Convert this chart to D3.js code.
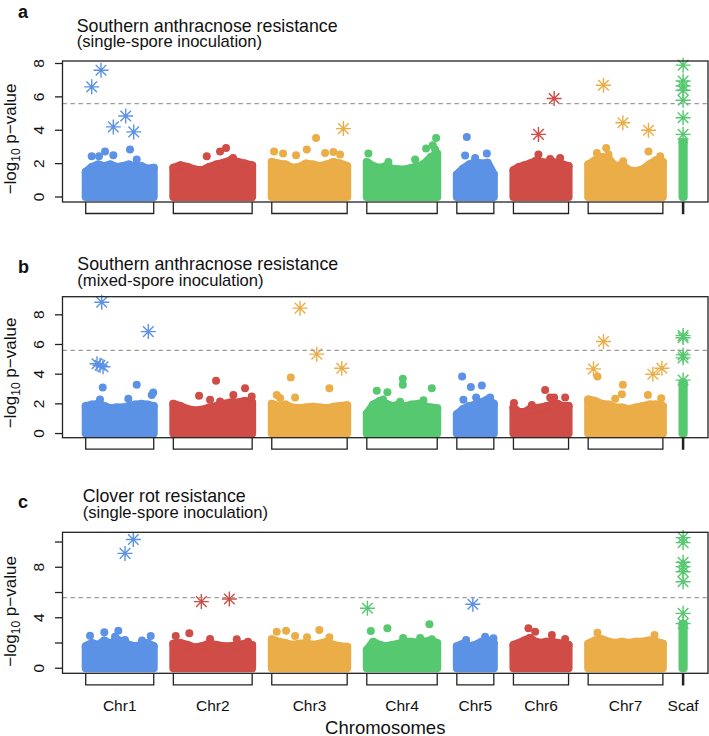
<!DOCTYPE html>
<html><head><meta charset="utf-8">
<script src="https://cdn.jsdelivr.net/npm/d3@7"></script>
<style>
body{margin:0;background:#fff}
svg{display:block}
text{font-family:"Liberation Sans",Arial,Helvetica,sans-serif;fill:#111}
</style>
</head><body>
<svg id="chart" width="709" height="736"></svg>
<script>
// ---------- data ----------
const chromosomes = ["Chr1","Chr2","Chr3","Chr4","Chr5","Chr6","Chr7","Scaf"];
const chromLengths = [68, 78.8, 75.4, 70.4, 37, 55.1, 74.7, 1.2];   // Mb (approx.)
const chromColors = ["#5b92e5","#d04c46","#ebad47","#56c870","#5b92e5","#d04c46","#ebad47","#56c870"];
const gapLength = 19.6, leftPad = 23.2, rightPad = 24.3;
const threshold = 5.6;

const panelLetters = ["a","b","c"];
const titleLine1 = ["Southern anthracnose resistance","Southern anthracnose resistance","Clover rot resistance"];
const titleLine2 = ["(single-spore inoculation)","(mixed-spore inoculation)","(single-spore inoculation)"];

const yTicksA = [0,2,4,6,8],      yLabelsA = [0,2,4,6,8];
const yTicksB = [0,2,4,6,8],      yLabelsB = [0,2,4,6,8];
const yTicksC = [0,2,4,6,8,10],   yLabelsC = [0,4,8];

// upper envelope of the dense background SNP clouds (-log10 p), evenly along each chromosome
const envA = [
  [1.5,1.8,1.95,1.85,1.95,1.8,1.85,1.95,1.8,1.85,1.7,1.75],
  [1.75,1.9,1.8,1.65,1.6,1.8,1.95,2.05,2.2,2.1,2.0,1.9],
  [2.1,2.0,1.95,1.75,1.8,2.0,1.95,1.85,1.95,2.1,2.0,1.85],
  [2.1,1.85,1.75,1.85,1.7,1.65,1.65,1.75,1.85,2.0,2.4,2.6],
  [1.35,1.7,1.95,2.1,2.0,2.05,1.35],
  [1.6,1.8,1.9,2.0,2.15,2.1,2.05,2.1,2.05,1.95,1.85],
  [1.95,2.2,2.4,2.3,1.85,1.95,1.6,1.55,1.65,1.95,2.2,2.1],
  [3.3,3.3]
];
const envB = [
  [1.85,1.95,2.0,1.85,1.7,1.75,1.75,1.85,1.95,2.0,1.95,1.85],
  [2.0,1.85,1.65,1.55,1.6,1.75,1.85,2.0,2.1,2.1,2.2,2.1],
  [2.0,1.85,1.95,1.75,1.7,1.75,1.8,1.75,1.7,1.8,1.85,1.9],
  [1.35,1.95,2.2,2.0,1.85,1.95,1.85,1.95,2.0,1.85,1.75,1.7],
  [1.3,1.65,1.85,1.95,2.1,2.3,2.0],
  [1.75,1.45,1.45,1.65,1.7,1.75,1.85,1.95,2.0,1.85,1.85],
  [2.3,2.2,2.0,1.95,1.75,1.75,1.65,1.75,1.85,1.95,1.95,1.85],
  [3.4,3.4]
];
const envC = [
  [1.75,2.0,1.85,2.2,1.95,2.3,2.1,1.85,1.75,1.85,2.0,1.75],
  [1.95,2.0,1.85,1.65,1.75,1.95,1.85,1.75,1.75,1.85,1.95,1.85],
  [2.3,2.1,2.0,1.85,1.95,2.0,1.85,1.95,2.1,1.85,1.75,1.7],
  [1.45,2.1,1.85,1.75,1.85,1.95,2.1,2.1,2.0,2.1,2.2,2.0],
  [1.75,1.95,1.75,1.85,2.1,2.2,2.0],
  [1.85,2.0,2.2,2.4,2.1,2.0,2.1,2.1,2.0,1.95,1.85],
  [1.95,2.2,2.3,2.1,2.0,2.1,2.0,2.1,2.1,2.2,2.1,1.95],
  [3.5,3.5]
];

// isolated SNPs above the cloud: [chromosome index, position in chromosome (Mb), -log10 p]
const dotsA = [
  [0,6.0,2.44],[0,13.3,2.44],[0,19.3,2.73],[0,27.6,2.5],[0,44.3,2.84],[0,51.0,2.24],
  [1,33.4,2.44],[1,46.7,2.73],[1,52.7,2.94],[1,59.7,2.34],
  [2,2.3,2.73],[2,11.3,2.6],[2,24.3,2.5],[2,35.0,2.84],[2,44.3,3.54],[2,53.3,2.64],[2,61.6,2.7],[2,68.3,2.54],
  [3,1.6,2.6],[3,21.6,2.1],[3,48.3,2.24],[3,59.3,2.9],[3,66.0,3.1],[3,68.3,2.84],[3,69.3,3.54],
  [4,8.3,2.48],[4,10.0,3.6],[4,18.3,2.34],[4,30.0,2.6],
  [5,25.0,2.54],[5,36.7,2.28],[5,46.7,2.34],
  [6,8.7,2.64],[6,18.0,2.94],[6,20.3,2.54],[6,35.0,2.14],[6,60.3,2.73],[6,72.0,2.44]
];
const dotsB = [
  [0,14.3,2.3],[0,17.0,3.1],[0,42.6,2.34],[0,51.0,3.28],[0,66.0,2.6],[0,67.5,2.76],
  [1,25.7,2.54],[1,36.7,2.27],[1,42.7,3.55],[1,46.7,2.16],[1,60.0,2.6],[1,71.7,3.06],[1,78.4,2.5],
  [2,5.0,2.6],[2,8.3,2.4],[2,19.0,3.78],[2,23.3,2.43],[2,57.6,3.06],
  [3,10.0,2.88],[3,16.3,2.3],[3,20.6,2.79],[3,33.3,2.15],[3,36.0,3.69],[3,36.0,3.28],[3,56.6,2.25],[3,65.0,3.06],
  [4,5.3,3.84],[4,6.6,2.27],[4,14.0,3.13],[4,19.3,2.43],[4,25.0,3.24],[4,33.3,2.43],
  [5,0.5,2.05],[5,18.4,1.93],[5,31.7,2.94],[5,36.7,2.43],[5,40.7,2.43],[5,51.7,2.43],
  [6,9.3,3.84],[6,27.0,2.34],[6,33.7,2.65],[6,34.7,3.28],[6,59.7,2.6],[6,73.0,2.38]
];
const dotsC = [
  [0,4.3,2.58],[0,18.6,2.85],[0,29.3,2.5],[0,32.6,2.98],[0,39.3,2.24],[0,56.3,2.2],[0,65.0,2.56],
  [1,2.4,2.56],[1,16.0,2.77],[1,36.7,2.32],[1,63.4,2.3],[1,74.7,2.1],
  [2,5.0,2.9],[2,14.3,2.98],[2,23.3,2.55],[2,35.3,2.45],[2,47.6,3.03],[2,57.6,2.45],
  [3,4.0,2.95],[3,20.6,3.17],[3,36.3,2.4],[3,53.3,2.4],[3,62.6,3.48],[3,65.0,2.3],
  [4,9.3,2.24],[4,28.3,2.5],[4,36.6,2.38],
  [5,15.0,3.17],[5,21.7,2.9],[5,38.4,2.64],[5,51.7,2.32],
  [6,9.3,2.82],[6,66.3,2.64]
];

// significant / highlighted SNPs drawn as asterisks
const sigA = [
  [0,6.0,6.6],[0,15.3,7.6],[0,27.6,4.2],[0,40.0,4.85],[0,48.0,3.9],
  [2,71.6,4.1],
  [5,25.0,3.75],[5,40.7,5.9],
  [6,15.3,6.7],[6,34.7,4.45],[6,60.3,4.0],
  [7,0.6,7.9],[7,0.6,6.95],[7,0.6,6.65],[7,0.6,6.4],[7,0.6,5.8],[7,0.6,4.75],[7,0.6,3.75]
];
const sigB = [
  [0,16.0,8.85],[0,62.6,6.87],[0,11.3,4.7],[0,14.3,4.6],[0,17.3,4.5],
  [2,28.3,8.45],[2,45.0,5.35],[2,70.0,4.4],
  [6,15.3,6.2],[6,5.3,4.36],[6,64.7,4.0],[6,73.7,4.4],
  [7,0.6,6.6],[7,0.6,6.45],[7,0.6,5.3],[7,0.6,5.1],[7,0.6,3.6]
];
const sigC = [
  [0,39.3,9.1],[0,47.6,10.2],
  [1,28.0,5.28],[1,56.0,5.49],
  [3,0.6,4.75],
  [4,16.0,5.07],
  [7,0.6,10.35],[7,0.6,9.95],[7,0.6,8.4],[7,0.6,8.05],[7,0.6,7.65],[7,0.6,6.85],[7,0.6,4.35],[7,0.6,3.55]
];

// ---------- layout ----------
const svg = d3.select("#chart");
const boxLeft = 62.5, boxRight = 708;
const starts = [];
{ let s = leftPad; chromLengths.forEach((l,i)=>{ starts.push(s); s += l + gapLength; }); }
const totalLen = starts[starts.length-1] + chromLengths[chromLengths.length-1] + rightPad;
const x = d3.scaleLinear().domain([0,totalLen]).range([boxLeft,boxRight]);
const gx = (c,p) => x(starts[c] + p);

const panels = [
  {top:61,    bottom:202,   dom:[-0.3,8.15],  ticks:yTicksA, labels:yLabelsA, env:envA, dots:dotsA, sig:sigA,
   letterY:17.5, t1Y:32.3, t2Y:47, tX:76.7, ylabY:139, chrLabels:false},
  {top:296.7, bottom:437.7, dom:[-0.28,9.22], ticks:yTicksB, labels:yLabelsB, env:envB, dots:dotsB, sig:sigB,
   letterY:273, t1Y:270, t2Y:285.7, tX:77.3, ylabY:373, chrLabels:false},
  {top:532.3, bottom:673.3, dom:[-0.4,10.77], ticks:yTicksC, labels:yLabelsC, env:envC, dots:dotsC, sig:sigC,
   letterY:508.3, t1Y:501.7, t2Y:518.3, tX:82.7, ylabY:611.5, chrLabels:true}
];
const R = 4, AST = 7.5;

panels.forEach((p,pi)=>{
  const y = d3.scaleLinear().domain(p.dom).range([p.bottom,p.top]);
  const g = svg.append("g");

  // clouds
  p.env.forEach((env,c)=>{
    const n = env.length;
    const pts = env.map((v,j)=>[gx(c, chromLengths[c]*j/(n-1)), y(v)]);
    const poly = [[pts[0][0], y(0)], ...pts, [pts[n-1][0], y(0)]];
    g.append("path").attr("d", d3.line()(poly)+"Z")
      .attr("fill", chromColors[c]).attr("stroke", chromColors[c])
      .attr("stroke-width", 2*R).attr("stroke-linejoin","round");
    g.selectAll(null).data(pts).join("circle")
      .attr("cx",d=>d[0]).attr("cy",d=>d[1]).attr("r",R).attr("fill",chromColors[c]);
  });
  // isolated dots
  g.selectAll(null).data(p.dots).join("circle")
    .attr("cx",d=>gx(d[0],d[1])).attr("cy",d=>y(d[2])).attr("r",R)
    .attr("fill",d=>chromColors[d[0]]);
  // asterisks
  const d8 = AST/Math.SQRT2;
  const astPath = `M${-AST},0H${AST}M0,${-AST}V${AST}M${-d8},${-d8}L${d8},${d8}M${-d8},${d8}L${d8},${-d8}`;
  g.selectAll(null).data(p.sig).join("path")
    .attr("transform",d=>`translate(${gx(d[0],d[1])},${y(d[2])})`)
    .attr("d",astPath).attr("fill","none")
    .attr("stroke",d=>chromColors[d[0]]).attr("stroke-width",1.4);

  // threshold line
  g.append("line").attr("x1",boxLeft).attr("x2",boxRight).attr("y1",y(threshold)).attr("y2",y(threshold))
    .attr("stroke","#9a9a9a").attr("stroke-width",1.3).attr("stroke-dasharray","4.3,3.7");

  // box
  g.append("rect").attr("x",boxLeft).attr("y",p.top).attr("width",boxRight-boxLeft).attr("height",p.bottom-p.top)
    .attr("fill","none").attr("stroke","#222").attr("stroke-width",1.3);

  // y axis ticks
  const ya = g.append("g");
  ya.selectAll(null).data(p.ticks).join("line")
    .attr("x1",boxLeft-7.5).attr("x2",boxLeft).attr("y1",d=>y(d)).attr("y2",d=>y(d))
    .attr("stroke","#222").attr("stroke-width",1.3);
  ya.selectAll(null).data(p.labels).join("text")
    .attr("transform",d=>`translate(43.5,${y(d)}) rotate(-90)`)
    .attr("text-anchor","middle").attr("font-size",15.5).text(d=>d);

  // y label
  const yl = g.append("text").attr("transform",`translate(16,${p.ylabY}) rotate(-90)`)
    .attr("text-anchor","middle").attr("font-size",17);
  yl.append("tspan").text("\u2212log");
  yl.append("tspan").attr("font-size",12).attr("dy",3.5).text("10");
  yl.append("tspan").attr("dy",-3.5).text(" p\u2212value");

  // chromosome brackets
  chromLengths.forEach((l,c)=>{
    const x0 = gx(c,0), x1 = gx(c,l), yb = p.bottom + 11.5;
    g.append("path").attr("d",`M${x0},${p.bottom}V${yb}H${x1}V${p.bottom}`)
      .attr("fill","none").attr("stroke","#222").attr("stroke-width",1.3);
  });
  if (p.chrLabels) {
    g.selectAll(null).data(chromosomes).join("text")
      .attr("x",(d,c)=>gx(c,chromLengths[c]/2)).attr("y",710.5)
      .attr("text-anchor","middle").attr("font-size",15.5).text(d=>d);
    g.append("text").attr("x",(boxLeft+boxRight)/2).attr("y",733.5)
      .attr("text-anchor","middle").attr("font-size",18.5).text("Chromosomes");
  }

  // titles
  g.append("text").attr("x",18).attr("y",p.letterY).attr("font-size",18).attr("font-weight","bold").text(panelLetters[pi]);
  g.append("text").attr("x",p.tX).attr("y",p.t1Y).attr("font-size",17.8).text(titleLine1[pi]);
  g.append("text").attr("x",p.tX).attr("y",p.t2Y).attr("font-size",16.6).text(titleLine2[pi]);
});
</script>
</body></html>
